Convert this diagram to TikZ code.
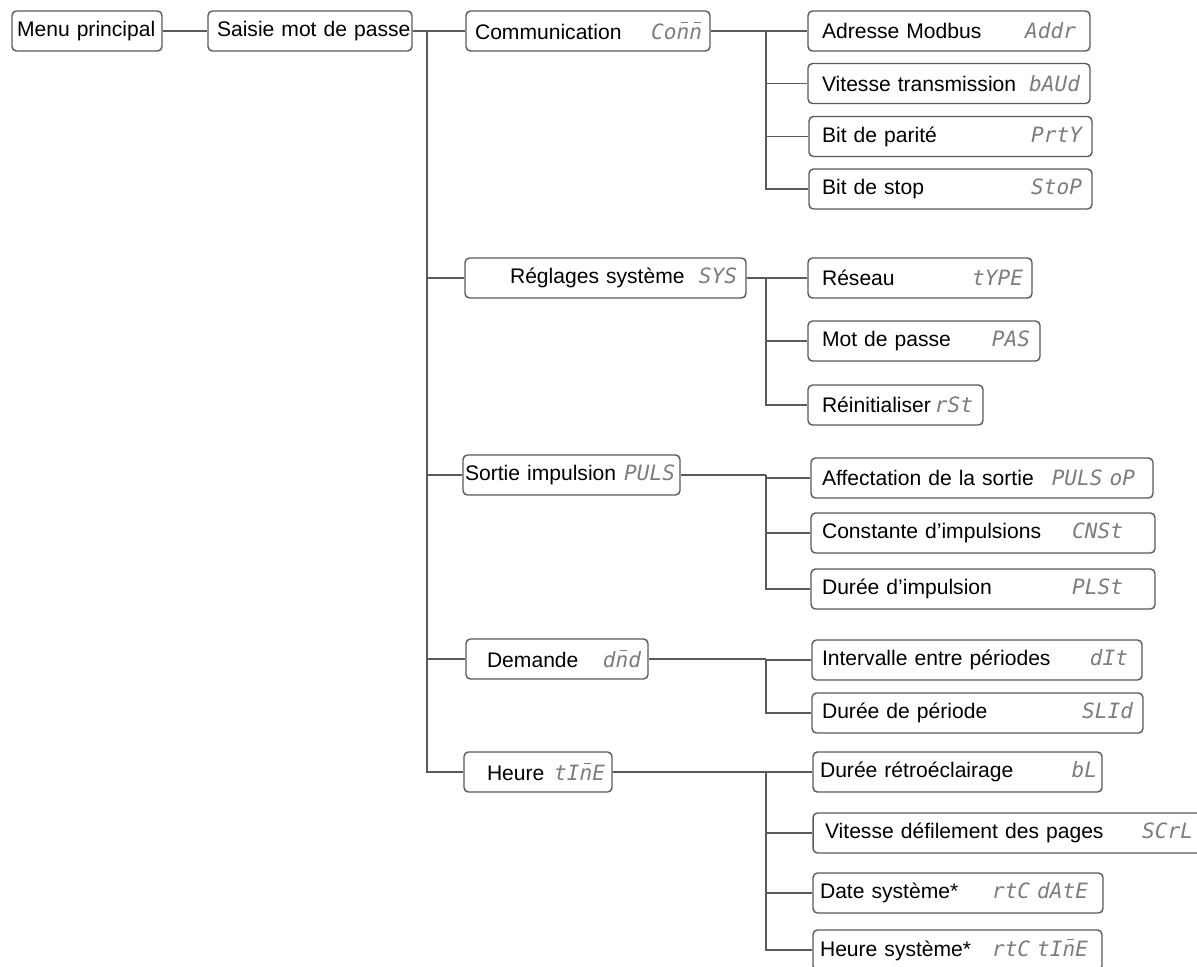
\documentclass[tikz,border=0pt]{standalone}
\usepackage{fontspec}
\setmainfont{Liberation Sans}
\newfontfamily\segfont{DejaVu Sans Mono}
\definecolor{linegray}{RGB}{94,89,86}
\definecolor{seggray}{RGB}{125,125,125}
\newlength\pxunit
\setlength\pxunit{0.02cm}
\newcommand{\seg}[1]{{\segfont\itshape\color{seggray}#1}}
\newcommand{\segm}{\makebox[0pt][l]{\kern0.2em\rule[0.78em]{0.34em}{0.07em}}n}

\begin{document}
\begin{tikzpicture}[
  x=0.02cm, y=-0.02cm,
  box/.style={draw=linegray, line width=0.8pt, rounded corners=2.5pt, fill=white,
    minimum height=0.8cm, inner xsep=0pt, inner ysep=0pt, align=left},
  link/.style={draw=linegray, line width=0.8pt},
  every node/.style={font=\fontsize{12}{14}\selectfont}
]
\useasboundingbox (0,0) rectangle (1197,967);

% first levels
\node[box, text width=3.00cm] (menu) at (87,31) {\hspace*{5\pxunit}Menu principal};
\node[box, text width=4.08cm] (saisie) at (310,31) {\hspace*{9\pxunit}Saisie mot de passe};
\node[box, text width=4.88cm] (comm) at (588,31) {\hspace*{9\pxunit}Communication\hfill\seg{Co\segm\segm}\kern8\pxunit};
\node[box, text width=5.62cm] (sys) at (605.5,278) {\hspace*{45\pxunit}Réglages système\hfill\seg{SYS}\kern9\pxunit};
\node[box, text width=4.34cm] (puls) at (571.5,475) {\hspace*{2\pxunit}Sortie impulsion\hfill\seg{PULS}\kern5\pxunit};
\node[box, text width=3.64cm] (dmd) at (557,659) {\hspace*{21\pxunit}Demande\hfill\seg{d\segm d}\kern7\pxunit};
\node[box, text width=2.96cm] (time) at (538,772) {\hspace*{23\pxunit}Heure\hfill\seg{tI\segm E}\kern7\pxunit};

% communication
\node[box, text width=5.64cm] (addr) at (949,31) {\hspace*{14\pxunit}Adresse Modbus\hfill\seg{Addr}\kern14\pxunit};
\node[box, text width=5.64cm] (baud) at (949,83.5) {\hspace*{14\pxunit}Vitesse transmission\hfill\seg{bAUd}\kern10\pxunit};
\node[box, text width=5.66cm] (prty) at (950.5,136.5) {\hspace*{13\pxunit}Bit de parité\hfill\seg{PrtY}\kern10\pxunit};
\node[box, text width=5.66cm] (stop) at (950.5,189) {\hspace*{13\pxunit}Bit de stop\hfill\seg{StoP}\kern10\pxunit};

% system settings
\node[box, text width=4.48cm] (type) at (920,278) {\hspace*{14\pxunit}Réseau\hfill\seg{tYPE}\kern9\pxunit};
\node[box, text width=4.64cm] (pas) at (924,341) {\hspace*{14\pxunit}Mot de passe\hfill\seg{PAS}\kern10\pxunit};
\node[box, text width=3.50cm] (rst) at (895.5,405) {\hspace*{14\pxunit}Réinitialiser\hfill\seg{rSt}\kern10\pxunit};

% pulse output
\node[box, text width=6.84cm] (pulsop) at (982,478) {\hspace*{11\pxunit}Affectation de la sortie\hfill\seg{PULS oP}\kern18\pxunit};
\node[box, text width=6.88cm] (cnst) at (983,533) {\hspace*{11\pxunit}Constante d’impulsions\hfill\seg{CNSt}\kern32\pxunit};
\node[box, text width=6.88cm] (plst) at (983,589) {\hspace*{11\pxunit}Durée d’impulsion\hfill\seg{PLSt}\kern32\pxunit};

% demand
\node[box, text width=6.60cm] (dit) at (977,660) {\hspace*{10\pxunit}Intervalle entre périodes\hfill\seg{dIt}\kern14\pxunit};
\node[box, text width=6.62cm] (slid) at (977.5,713) {\hspace*{10\pxunit}Durée de période\hfill\seg{SLId}\kern10\pxunit};

% time
\node[box, text width=5.78cm] (bl) at (957.5,772) {\hspace*{7\pxunit}Durée rétroéclairage\hfill\seg{bL}\kern5\pxunit};
\node[box, text width=7.94cm] (scrl) at (1011.5,833) {\hspace*{12\pxunit}Vitesse défilement des pages\hfill\seg{SCrL}\kern17\pxunit};
\node[box, text width=5.80cm] (date) at (958,893) {\hspace*{7\pxunit}Date système*\hfill\seg{rtC dAtE}\kern15\pxunit};
\node[box, text width=5.78cm] (hsys) at (957.5,950) {\hspace*{7\pxunit}Heure système*\hfill\seg{rtC tI\segm E}\kern14\pxunit};

% connectors
\coordinate (jmain) at (427,0);
\coordinate (jsub) at (766,0);
\draw[link] (menu) -- (saisie);
\draw[link] (saisie) -- (jmain |- saisie);
\foreach \c in {comm,sys,puls,dmd,time}
  \draw[link] (jmain |- saisie) |- (\c.west);
\draw[link] (comm) -- (jsub |- comm);
\foreach \c in {addr,baud,prty,stop}
  \draw[link] (jsub |- comm) |- (\c.west);
\draw[link] (sys) -- (jsub |- sys);
\foreach \c in {type,pas,rst}
  \draw[link] (jsub |- sys) |- (\c.west);
\draw[link] (puls) -- (jsub |- puls);
\foreach \c in {pulsop,cnst,plst}
  \draw[link] (jsub |- puls) |- (\c.west);
\draw[link] (dmd) -- (jsub |- dmd);
\foreach \c in {dit,slid}
  \draw[link] (jsub |- dmd) |- (\c.west);
\draw[link] (time) -- (jsub |- time);
\foreach \c in {bl,scrl,date,hsys}
  \draw[link] (jsub |- time) |- (\c.west);
\end{tikzpicture}
\end{document}
